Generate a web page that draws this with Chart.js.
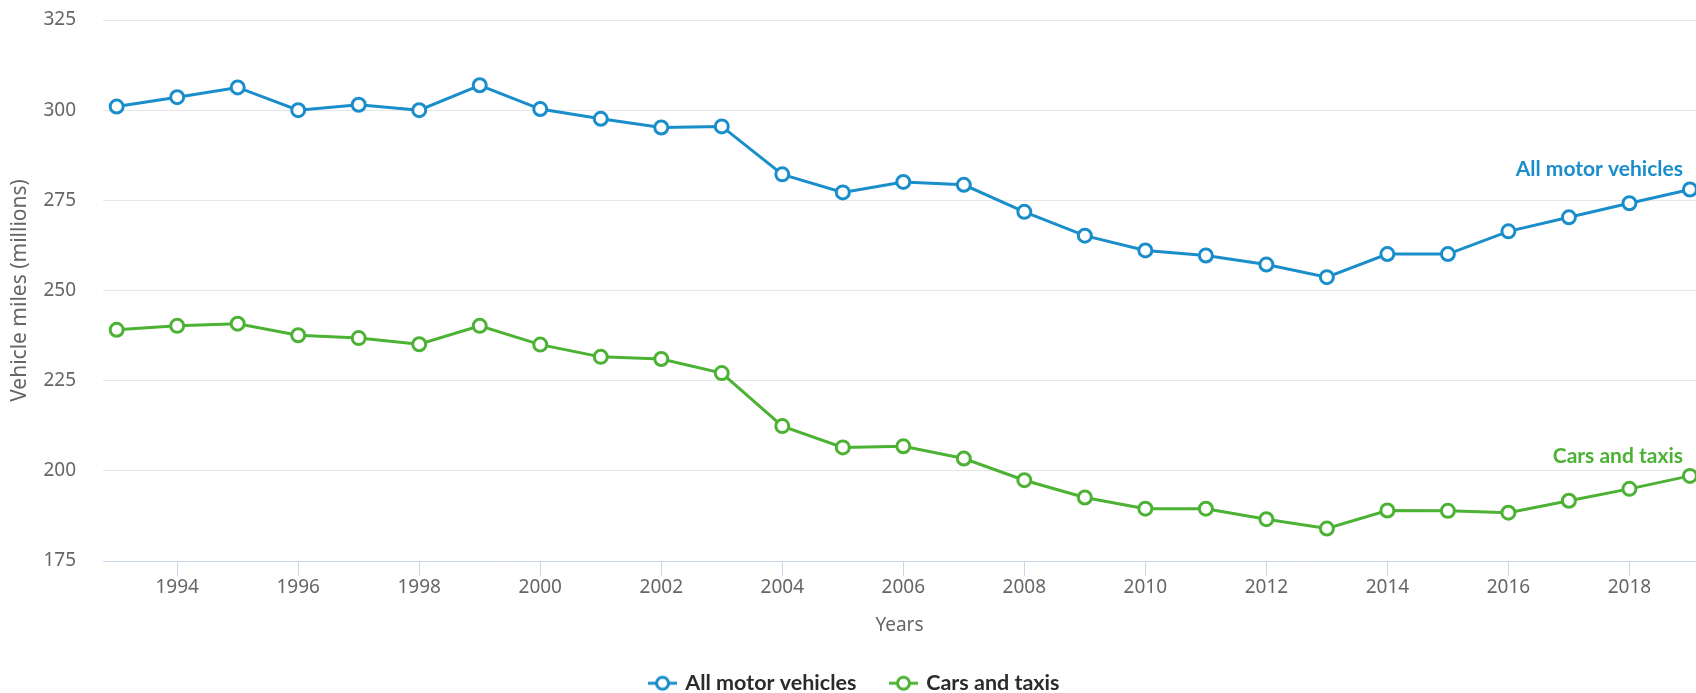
<!DOCTYPE html>
<html>
<head>
<meta charset="utf-8">
<script src="https://cdn.jsdelivr.net/npm/chart.js@4.4.1/dist/chart.umd.min.js"></script>
<style>
  html, body { margin: 0; padding: 0; background: #ffffff; overflow: hidden; }
  #wrap { position: relative; width: 1696px; height: 693px; }
</style>
</head>
<body>
<div id="wrap"><canvas id="c" width="1696" height="693"></canvas></div>
<script>
const years = [1993,1994,1995,1996,1997,1998,1999,2000,2001,2002,2003,2004,2005,2006,2007,2008,2009,2010,2011,2012,2013,2014,2015,2016,2017,2018,2019];
const allMotorVehicles = [301,303.6,306.3,300,301.5,300,306.9,300.3,297.6,295.2,295.5,282.2,277.2,280.1,279.3,271.8,265.2,261.1,259.7,257.2,253.7,260.1,260.1,266.4,270.3,274.2,278.0];
const carsAndTaxis = [239.1,240.2,240.8,237.6,236.8,235.1,240.2,235.0,231.6,231.0,227.1,212.4,206.5,206.8,203.4,197.4,192.6,189.5,189.5,186.6,184.0,189.0,188.9,188.4,191.7,195.0,198.6];
const xTickLabels = [1994,1996,1998,2000,2002,2004,2006,2008,2010,2012,2014,2016,2018];
const yTickLabels = [175,200,225,250,275,300,325];
const seriesNames = ['All motor vehicles', 'Cars and taxis'];

const BLUE = '#1a8dcb';
const GREEN = '#4cb234';
const BOLD_FONT = 'Lato, "Noto Sans", sans-serif';
const AXIS_FONT = '"Noto Sans", "Open Sans", sans-serif';

function legendSymbol(color) {
  const c = document.createElement('canvas');
  c.width = 29; c.height = 18;
  const g = c.getContext('2d');
  g.strokeStyle = color; g.lineWidth = 3;
  g.beginPath(); g.moveTo(0, 9); g.lineTo(29, 9); g.stroke();
  g.fillStyle = '#ffffff';
  g.beginPath(); g.arc(14.5, 9, 6, 0, Math.PI * 2); g.fill(); g.stroke();
  return c;
}
const symbols = [legendSymbol(BLUE), legendSymbol(GREEN)];

const endLabels = {
  id: 'endLabels',
  afterDatasetsDraw(chart) {
    const ctx = chart.ctx;
    ctx.save();
    ctx.font = 'bold 21px ' + BOLD_FONT;
    ctx.textAlign = 'right';
    ctx.textBaseline = 'middle';
    chart.data.datasets.forEach((ds, i) => {
      const meta = chart.getDatasetMeta(i);
      const pt = meta.data[meta.data.length - 1];
      ctx.fillStyle = ds.borderColor;
      ctx.fillText(ds.label, pt.x - 7, pt.y - 20);
    });
    ctx.restore();
  }
};

const shiftLegend = {
  id: 'shiftLegend',
  afterLayout(chart) {
    if (chart.legend) { chart.legend.left += 7; chart.legend.right += 7; }
  }
};

new Chart(document.getElementById('c'), {
  type: 'line',
  data: {
    datasets: [
      {
        label: seriesNames[0],
        data: years.map((y, i) => ({x: y, y: allMotorVehicles[i]})),
        borderColor: BLUE, backgroundColor: '#ffffff',
        borderWidth: 3, pointRadius: 6.5, pointBorderWidth: 3,
        pointBackgroundColor: '#ffffff', pointBorderColor: BLUE,
        tension: 0, clip: false
      },
      {
        label: seriesNames[1],
        data: years.map((y, i) => ({x: y, y: carsAndTaxis[i]})),
        borderColor: GREEN, backgroundColor: '#ffffff',
        borderWidth: 3, pointRadius: 6.5, pointBorderWidth: 3,
        pointBackgroundColor: '#ffffff', pointBorderColor: GREEN,
        tension: 0, clip: false
      }
    ]
  },
  options: {
    responsive: false,
    animation: false,
    layout: { autoPadding: false, padding: { left: 0, right: 0, top: 20, bottom: -11 } },
    plugins: {
      tooltip: { enabled: false },
      legend: {
        position: 'bottom',
        labels: {
          usePointStyle: true,
          pointStyleWidth: 24,
          padding: 35,
          color: '#2b2b2b',
          font: { family: BOLD_FONT, size: 21.5, weight: 'bold' },
          generateLabels(chart) {
            return chart.data.datasets.map((ds, i) => ({
              text: ds.label,
              pointStyle: symbols[i],
              fillStyle: '#fff',
              strokeStyle: ds.borderColor,
              lineWidth: 0,
              hidden: false,
              datasetIndex: i,
              fontColor: '#2b2b2b'
            }));
          }
        }
      }
    },
    scales: {
      x: {
        type: 'linear',
        min: 1992.774,
        max: 2019.10,
        afterBuildTicks(axis) { axis.ticks = xTickLabels.map(v => ({value: v})); },
        afterFit(axis) { axis.paddingLeft = 0; axis.paddingRight = 0; },
        ticks: {
          color: '#666666', font: { family: AXIS_FONT, size: 19 }, padding: 0,
          maxRotation: 0, autoSkip: false,
          callback: (v) => String(v)
        },
        grid: { drawOnChartArea: false, drawTicks: true, tickLength: 15, color: '#ccd6eb', lineWidth: 1 },
        border: { display: true, color: '#ccd6eb', width: 1 },
        title: { display: true, text: 'Years', color: '#666666', font: { family: AXIS_FONT, size: 19 }, padding: { top: 15, bottom: 0.9 } }
      },
      y: {
        min: 175,
        max: 325,
        afterBuildTicks(axis) { axis.ticks = yTickLabels.map(v => ({value: v})); },
        afterFit(axis) { axis.width = 103; axis.paddingTop = 0; axis.paddingBottom = 0; },
        ticks: { color: '#666666', font: { family: AXIS_FONT, size: 19 }, padding: 27 },
        grid: { color: '#e6e6e6', lineWidth: 1, drawTicks: false },
        border: { display: false },
        title: { display: true, text: 'Vehicle miles (millions)', color: '#666666', font: { family: AXIS_FONT, size: 21 }, padding: { top: 7.4, bottom: 6 } }
      }
    }
  },
  plugins: [endLabels, shiftLegend]
});
</script>
</body>
</html>
